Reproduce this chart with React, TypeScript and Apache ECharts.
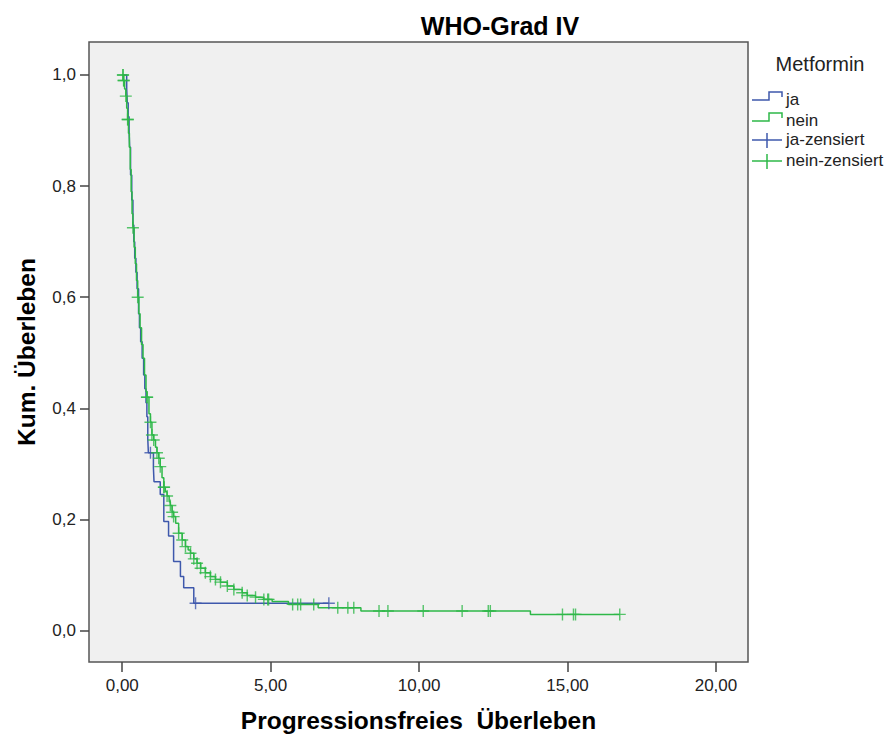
import React, { useEffect, useRef } from "react";
import * as echarts from "echarts";

// Kaplan-Meier step data
const jaTimes = [0, 0.15, 0.17, 0.2, 0.23, 0.25, 0.28, 0.32, 0.36, 0.39, 0.42, 0.46, 0.5, 0.55, 0.58, 0.62, 0.67, 0.72, 0.76, 0.8, 0.83, 0.86, 0.88, 1.05, 1.07, 1.28, 1.4, 1.56, 1.73, 1.96, 2.07, 2.41, 6.96];
const jaSurvival = [1.0, 0.975, 0.95, 0.925, 0.9, 0.87, 0.82, 0.775, 0.73, 0.7, 0.67, 0.645, 0.615, 0.57, 0.545, 0.52, 0.49, 0.46, 0.435, 0.41, 0.385, 0.345, 0.32, 0.293, 0.268, 0.245, 0.196, 0.17, 0.124, 0.097, 0.077, 0.049, 0.049];
const jaCensored = [0.95, 2.47, 6.96];

const neinTimes = [0, 0.04, 0.08, 0.12, 0.15, 0.18, 0.21, 0.24, 0.27, 0.3, 0.33, 0.36, 0.4, 0.44, 0.48, 0.52, 0.56, 0.6, 0.65, 0.7, 0.75, 0.8, 0.83, 0.9, 0.95, 1.0, 1.06, 1.12, 1.17, 1.23, 1.28, 1.34, 1.4, 1.45, 1.51, 1.58, 1.62, 1.68, 1.73, 1.8, 1.9, 2.02, 2.13, 2.22, 2.3, 2.41, 2.52, 2.64, 2.8, 2.97, 3.14, 3.31, 3.54, 3.76, 4.04, 4.21, 4.49, 4.77, 5.05, 5.6, 6.6, 8.04, 13.75, 16.76];
const neinSurvival = [1.0, 0.99, 0.975, 0.962, 0.94, 0.92, 0.895, 0.87, 0.83, 0.79, 0.75, 0.725, 0.69, 0.66, 0.63, 0.6, 0.57, 0.545, 0.515, 0.49, 0.46, 0.43, 0.42, 0.39, 0.375, 0.352, 0.343, 0.33, 0.32, 0.31, 0.295, 0.275, 0.258, 0.25, 0.242, 0.232, 0.225, 0.213, 0.205, 0.193, 0.175, 0.163, 0.151, 0.145, 0.139, 0.129, 0.121, 0.112, 0.104, 0.097, 0.092, 0.087, 0.08, 0.074, 0.068, 0.063, 0.06, 0.056, 0.052, 0.047, 0.041, 0.035, 0.029, 0.029];
const neinCensored = [0.02, 0.03, 0.045, 0.05, 0.12, 0.18, 0.19, 0.36, 0.52, 0.83, 0.84, 0.95, 1.0, 1.06, 1.17, 1.23, 1.28, 1.4, 1.41, 1.51, 1.62, 1.68, 1.73, 1.9, 2.02, 2.13, 2.3, 2.41, 2.52, 2.64, 2.8, 2.97, 3.14, 3.31, 3.54, 3.76, 4.04, 4.21, 4.49, 4.77, 4.9, 4.93, 5.74, 5.91, 6.01, 6.45, 7.26, 7.6, 7.8, 8.65, 8.95, 10.14, 11.45, 12.33, 12.4, 14.83, 15.2, 15.27, 16.76];

const xTicks = [0, 5, 10, 15, 20];
const yTicks = [0, 0.2, 0.4, 0.6, 0.8, 1.0];

const seriesNames = ["ja", "nein", "ja-zensiert", "nein-zensiert"];
const legendTitle = "Metformin";
const chartTitle = "WHO-Grad IV";
const xTitle = "Progressionsfreies  Überleben";
const yTitle = "Kum. Überleben";

const BLUE = "#3E58AC";
const GREEN = "#2EB848";
const FONT = "'Liberation Sans', Arial, sans-serif";
const PLUS = "path://M5.3,0H6.7V5.3H12V6.7H6.7V12H5.3V6.7H0V5.3H5.3Z";

function survivalAt(times: number[], surv: number[], t: number) {
  let s = surv[0];
  for (let i = 0; i < times.length; i++) {
    if (times[i] <= t) s = surv[i];
    else break;
  }
  return s;
}

export default function App() {
  const ref = useRef<HTMLDivElement>(null);
  useEffect(() => {
    if (!ref.current) return;
    const chart = echarts.init(ref.current, null, { renderer: "svg" });

    const legendX = 752;
    const rows = [100, 121, 140, 161];
    const legendGraphics: any[] = [
      {
        type: "text",
        x: 820,
        y: 64,
        style: { text: legendTitle, font: `20px ${FONT}`, fill: "#222", textAlign: "center", textVerticalAlign: "middle" },
      },
      {
        type: "polyline",
        shape: { points: [[legendX, rows[0]], [769, rows[0]], [769, rows[0] - 8], [782, rows[0] - 8], [782, rows[0] - 3]] },
        style: { stroke: BLUE, lineWidth: 1.5, fill: null },
      },
      {
        type: "polyline",
        shape: { points: [[legendX, rows[1]], [769, rows[1]], [769, rows[1] - 8], [782, rows[1] - 8], [782, rows[1] - 3]] },
        style: { stroke: GREEN, lineWidth: 1.5, fill: null },
      },
      { type: "line", shape: { x1: legendX, y1: rows[2], x2: 782, y2: rows[2] }, style: { stroke: BLUE, lineWidth: 1.5 } },
      { type: "line", shape: { x1: 767, y1: rows[2] - 7, x2: 767, y2: rows[2] + 8 }, style: { stroke: BLUE, lineWidth: 1.5 } },
      { type: "line", shape: { x1: legendX, y1: rows[3], x2: 782, y2: rows[3] }, style: { stroke: GREEN, lineWidth: 1.5 } },
      { type: "line", shape: { x1: 767, y1: rows[3] - 7, x2: 767, y2: rows[3] + 8 }, style: { stroke: GREEN, lineWidth: 1.5 } },
    ];
    seriesNames.forEach((n, i) => {
      legendGraphics.push({
        type: "text",
        x: 786,
        y: rows[i] - 1,
        style: { text: n, font: `17px ${FONT}`, fill: "#222", textAlign: "left", textVerticalAlign: "middle" },
      });
    });

    chart.setOption({
      animation: false,
      title: {
        text: chartTitle,
        left: 495,
        top: 8,
        textAlign: "center",
        textStyle: { fontFamily: FONT, fontSize: 25, fontWeight: "bold", color: "#000" },
      },
      grid: {
        left: 89,
        top: 42,
        width: 659,
        height: 620,
        show: true,
        backgroundColor: "#f0f0f0",
        borderColor: "#555",
        borderWidth: 1.5,
      },
      xAxis: {
        type: "value",
        min: -1.12,
        max: 21.08,
        axisLine: { show: false, onZero: false },
        splitLine: { show: false },
        axisTick: { show: true, length: 10, customValues: xTicks, lineStyle: { color: "#444", width: 1.5 } },
        axisLabel: {
          customValues: xTicks,
          formatter: (v: number) => v.toFixed(2).replace(".", ","),
          margin: 15,
          fontSize: 17,
          color: "#222",
          fontFamily: FONT,
        },
        name: xTitle,
        nameLocation: "middle",
        nameGap: 46,
        nameTextStyle: { fontFamily: FONT, fontSize: 24.5, fontWeight: "bold", color: "#000" },
      },
      yAxis: {
        type: "value",
        min: -0.0567,
        max: 1.0594,
        axisLine: { show: false, onZero: false },
        splitLine: { show: false },
        axisTick: { show: true, length: 9, customValues: yTicks, lineStyle: { color: "#444", width: 1.5 } },
        axisLabel: {
          customValues: yTicks,
          formatter: (v: number) => v.toFixed(1).replace(".", ","),
          margin: 13,
          fontSize: 17,
          color: "#222",
          fontFamily: FONT,
        },
        name: yTitle,
        nameLocation: "middle",
        nameGap: 50,
        nameTextStyle: { fontFamily: FONT, fontSize: 24.5, fontWeight: "bold", color: "#000" },
      },
      series: [
        {
          name: seriesNames[0],
          type: "line",
          step: "end",
          showSymbol: false,
          silent: true,
          z: 2,
          lineStyle: { color: BLUE, width: 1.5 },
          data: jaTimes.map((t, i) => [t, jaSurvival[i]]),
        },
        {
          name: seriesNames[1],
          type: "line",
          step: "end",
          showSymbol: false,
          silent: true,
          z: 3,
          lineStyle: { color: GREEN, width: 1.5 },
          data: neinTimes.map((t, i) => [t, neinSurvival[i]]),
        },
        {
          name: seriesNames[2],
          type: "scatter",
          symbol: PLUS,
          symbolSize: 12,
          silent: true,
          z: 4,
          itemStyle: { color: BLUE },
          data: jaCensored.map((t) => [t, survivalAt(jaTimes, jaSurvival, t)]),
        },
        {
          name: seriesNames[3],
          type: "scatter",
          symbol: PLUS,
          symbolSize: 12,
          silent: true,
          z: 5,
          itemStyle: { color: GREEN },
          data: neinCensored.map((t) => [t, survivalAt(neinTimes, neinSurvival, t)]),
        },
      ],
      graphic: legendGraphics,
    });
    return () => chart.dispose();
  }, []);

  return (
    <div
      ref={ref}
      style={{ position: "absolute", left: 0, top: 0, width: 893, height: 738, background: "#fff" }}
    />
  );
}
